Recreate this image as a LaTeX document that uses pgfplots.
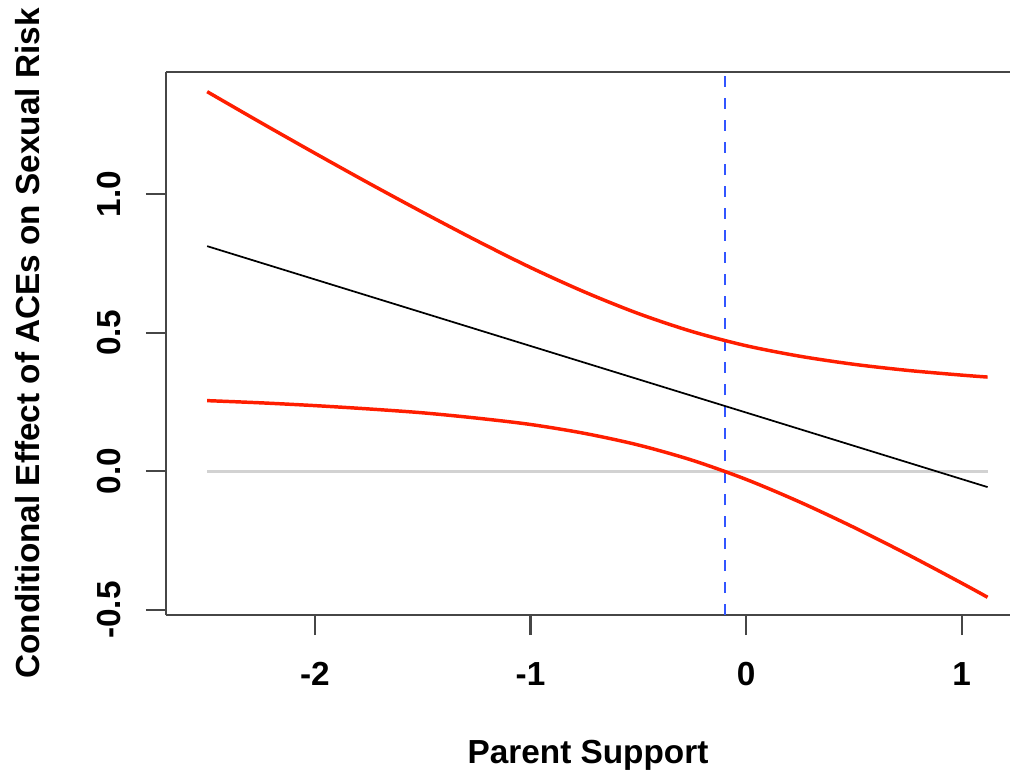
\documentclass[border=0pt]{standalone}
\usepackage{fontspec}
\setmainfont{Liberation Sans}
\usepackage{pgfplots}
\pgfplotsset{compat=1.18}
\definecolor{rred}{RGB}{255,30,0}
\definecolor{rblue}{RGB}{50,85,255}
\definecolor{rgray}{RGB}{210,210,210}
\definecolor{boxc}{RGB}{70,70,70}
\begin{document}
\begin{tikzpicture}
\useasboundingbox (-124.5pt,-125.25pt) rectangle (633pt,461.25pt);
\begin{axis}[
  at={(0,0)}, anchor=south west,
  scale only axis, width=633pt, height=407.25pt,
  xmin=-2.691, xmax=1.224, ymin=-0.518, ymax=1.440,
  axis x line*=bottom, axis y line*=left,
  axis line style={boxc, line width=1.6pt},
  tick style={boxc, line width=1.6pt},
  tick align=outside, major tick length=15pt,
  xtick={-2,-1,0,1}, ytick={-0.5,0,0.5,1},
  xticklabels={-2,-1,0,1},
  yticklabels={-0.5,0.0,0.5,1.0},
  ticklabel style={font=\fontsize{25}{25}\selectfont\bfseries},
  /pgf/number format/assume math mode=true,
  xticklabel style={anchor=base, yshift=-38pt},
  yticklabel style={rotate=90, anchor=base, yshift=19pt},
  xlabel={Parent Support},
  ylabel={Conditional Effect of ACEs on Sexual Risk},
  label style={font=\fontsize{25}{25}\selectfont\bfseries},
  xlabel style={at={([yshift=-111pt]axis description cs:0.5,0)}, anchor=base},
  ylabel style={at={([xshift=-94.5pt]axis description cs:0,0.5)}, anchor=base, rotate=0},
  clip=false,
]
\draw[boxc, line width=1.6pt] (rel axis cs:0,1) -- (rel axis cs:1.01,1);
\addplot[rgray, line width=2pt] coordinates {(-2.5,0) (1.12,0)};
\addplot[rblue, line width=1.6pt, dash pattern=on 8.5pt off 8pt] coordinates {(-0.1,-0.518) (-0.1,1.44)};
\addplot[black, line width=1.3pt] coordinates {(-2.5,0.812) (1.12,-0.0568)};
\addplot[rred, line width=2.6pt, smooth] coordinates {
(-2.5,1.369) (-2.25,1.257) (-2,1.147) (-1.75,1.039) (-1.5,0.934) (-1.25,0.832)
(-1,0.735) (-0.75,0.647) (-0.5,0.569) (-0.25,0.504) (0,0.453) (0.25,0.415)
(0.5,0.386) (0.75,0.364) (1.0,0.347) (1.12,0.340)};
\addplot[rred, line width=2.6pt, smooth] coordinates {
(-2.5,0.255) (-2.25,0.247) (-2,0.237) (-1.75,0.225) (-1.5,0.211) (-1.25,0.192)
(-1,0.169) (-0.75,0.137) (-0.5,0.095) (-0.25,0.040) (0,-0.029) (0.25,-0.111)
(0.5,-0.202) (0.75,-0.300) (1.0,-0.403) (1.12,-0.454)};
\end{axis}
\end{tikzpicture}
\end{document}
